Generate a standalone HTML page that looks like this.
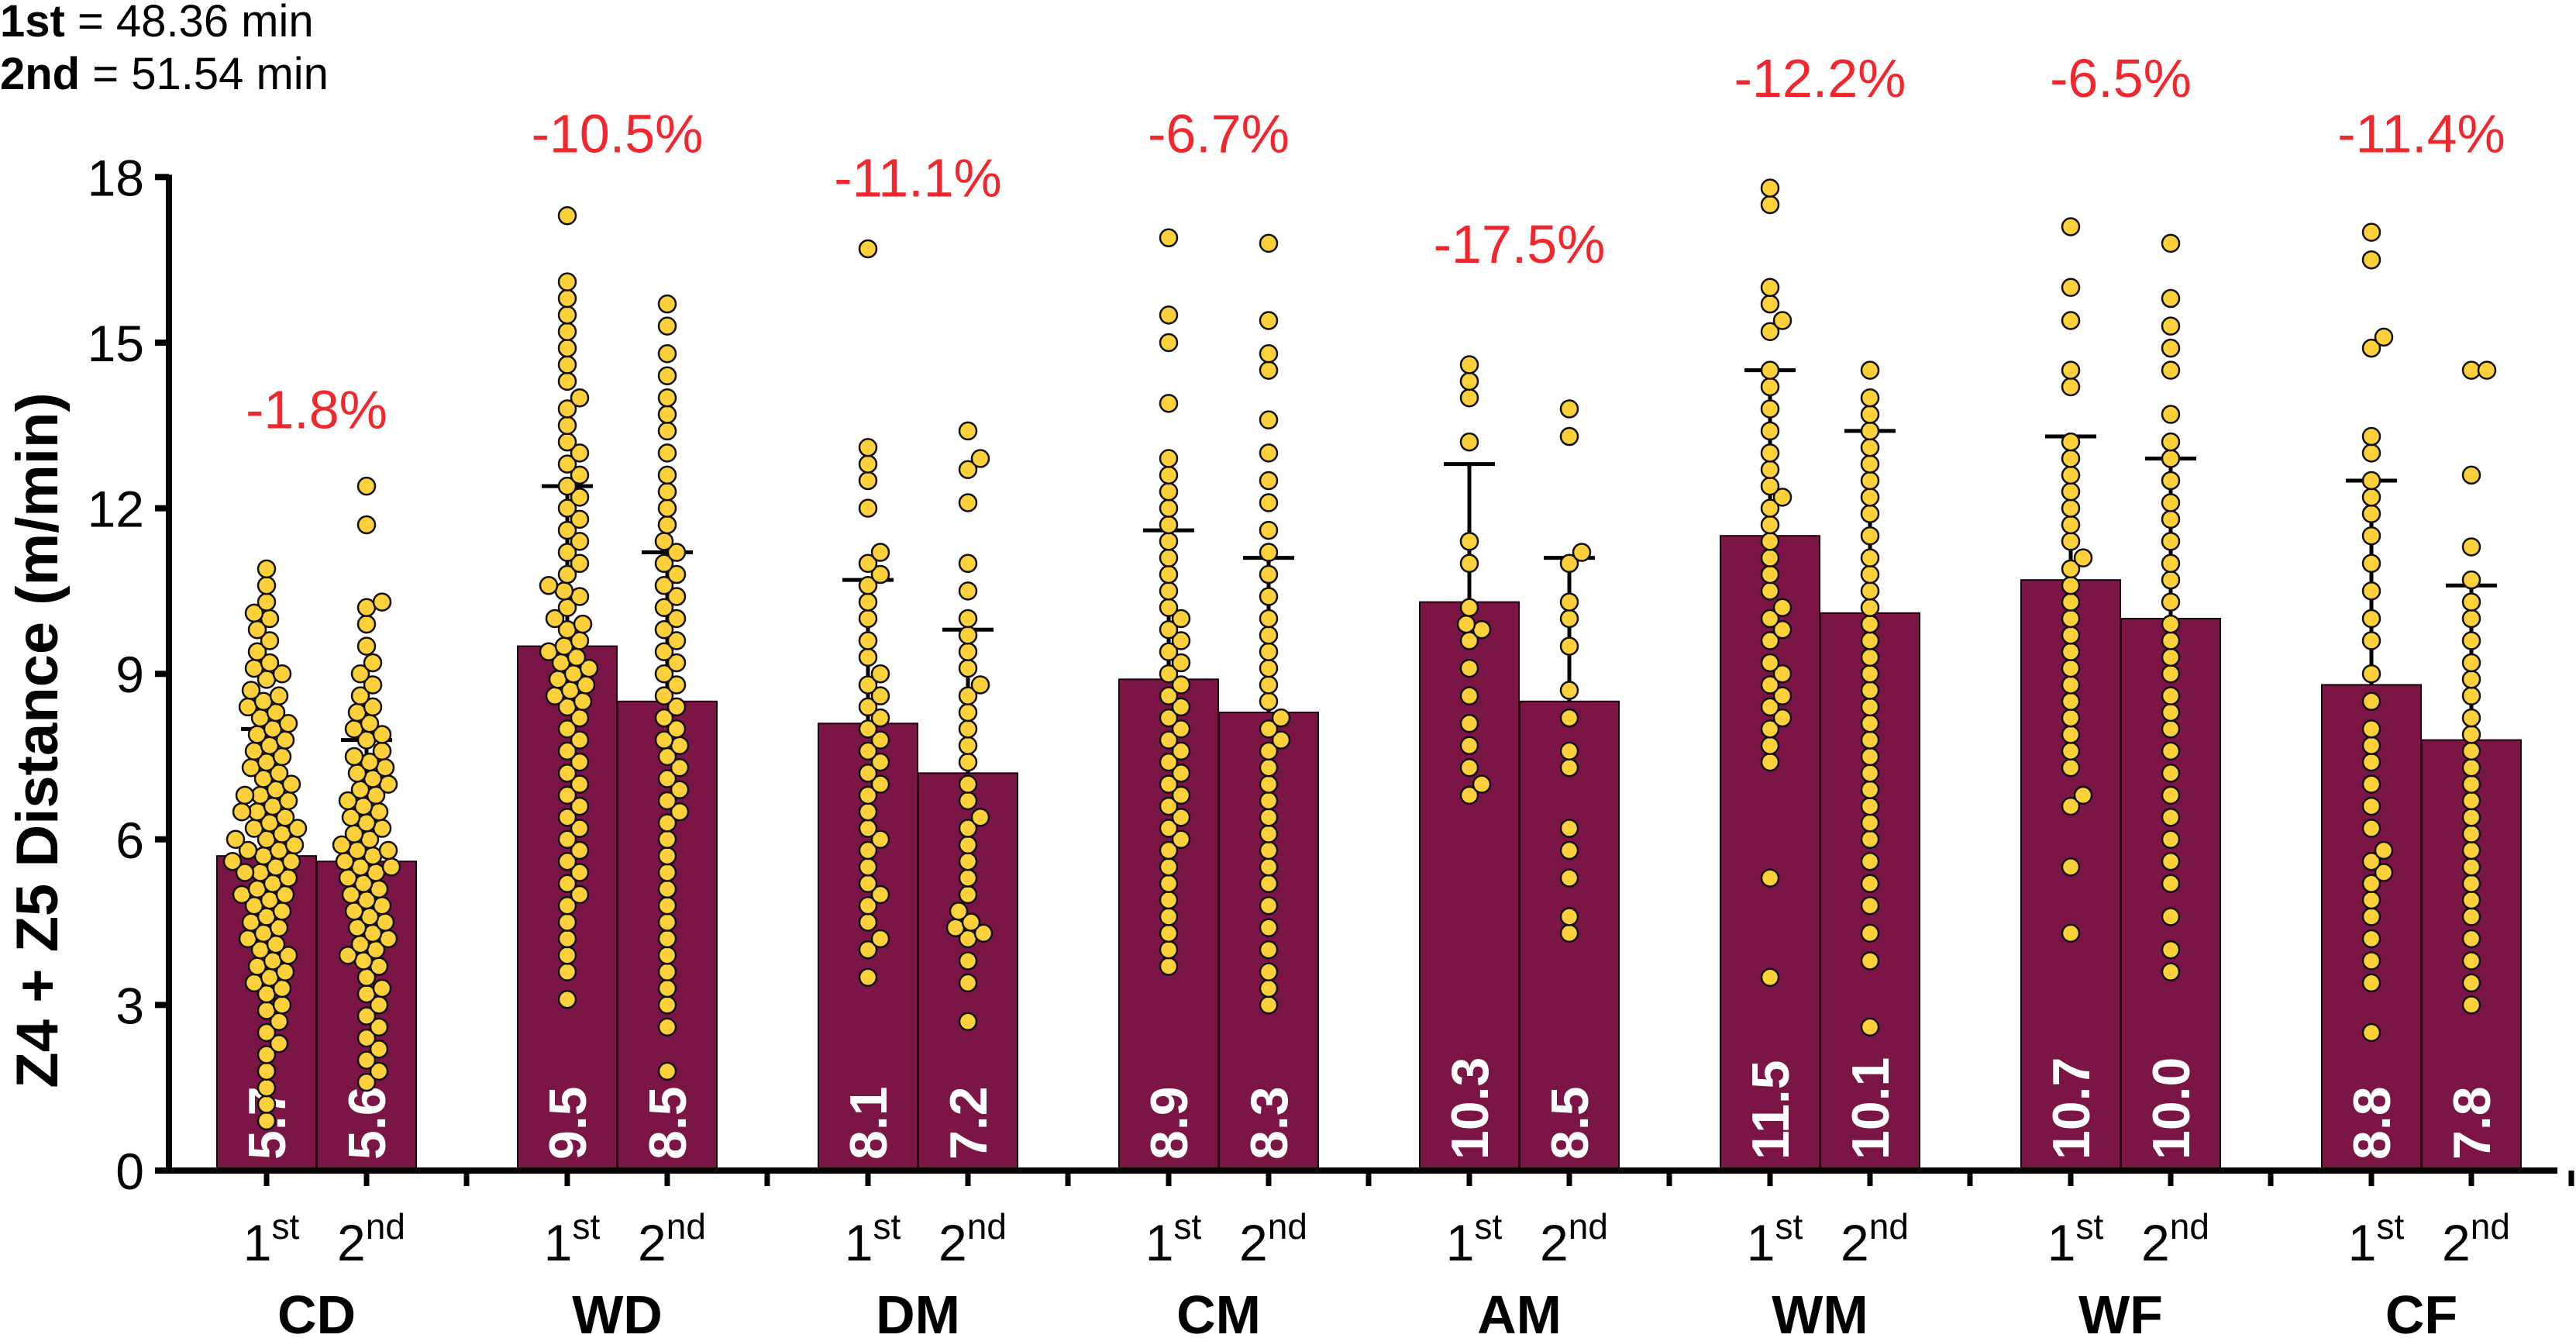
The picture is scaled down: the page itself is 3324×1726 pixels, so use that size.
<!DOCTYPE html>
<html><head><meta charset="utf-8">
<style>
html,body{margin:0;padding:0;background:#fff;}
svg{display:block;font-family:"Liberation Sans",Arial,sans-serif;}
</style></head>
<body>
<svg id="chart" width="3324" height="1726" viewBox="0 0 3324 1726" xmlns="http://www.w3.org/2000/svg">
<text x="0" y="47" font-size="58"><tspan font-weight="bold">1st</tspan> = 48.36 min</text>
<text x="0" y="115" font-size="58"><tspan font-weight="bold">2nd</tspan> = 51.54 min</text>
<text transform="translate(74,955) rotate(-90)" text-anchor="middle" font-size="76" font-weight="bold">Z4 + Z5 Distance (m/min)</text>
<g id="plot"></g>
</svg>
<script>
const categories = ["CD","WD","DM","CM","AM","WM","WF","CF"];
const pctLabels = ["-1.8%","-10.5%","-11.1%","-6.7%","-17.5%","-12.2%","-6.5%","-11.4%"];
const pctY = [13.8,18.8,18.0,18.8,16.8,19.8,19.8,18.8];
const means1 = [5.7,9.5,8.1,8.9,10.3,11.5,10.7,8.8];
const means2 = [5.6,8.5,7.2,8.3,8.5,10.1,10.0,7.8];
const sd1 = [2.3,2.9,2.6,2.7,2.5,3.0,2.6,3.7];
const sd2 = [2.2,2.7,2.6,2.8,2.6,3.3,2.9,2.8];
const yTicks = [0,3,6,9,12,15,18];
const CD1=[10.9,10.6,10.3,10.1,10.0,9.8,9.6,9.4,9.2,9.1,9.0,8.9,8.7,8.6,8.5,8.4,8.3,8.2,8.1,8.0,7.9,7.8,7.7,7.6,7.5,7.4,7.3,7.2,7.1,7.0,6.9,6.8,6.8,6.7,6.6,6.5,6.5,6.4,6.3,6.2,6.2,6.1,6.0,6.0,5.9,5.8,5.8,5.7,5.6,5.6,5.5,5.4,5.4,5.3,5.2,5.1,5.0,5.0,4.9,4.8,4.7,4.6,4.5,4.4,4.3,4.2,4.1,4.0,3.9,3.8,3.7,3.6,3.5,3.4,3.3,3.2,3.0,2.9,2.7,2.5,2.3,2.1,1.8,1.5,1.2,0.9];
const CD2=[12.4,11.7,10.3,10.2,9.9,9.5,9.2,9.0,8.8,8.6,8.4,8.3,8.1,8.0,7.9,7.8,7.6,7.5,7.4,7.3,7.2,7.1,7.0,6.9,6.8,6.7,6.6,6.5,6.4,6.3,6.2,6.1,6.0,5.9,5.8,5.8,5.7,5.6,5.5,5.5,5.4,5.3,5.2,5.1,5.0,4.9,4.8,4.7,4.6,4.5,4.4,4.3,4.2,4.1,4.0,3.9,3.8,3.7,3.5,3.3,3.2,3.0,2.8,2.6,2.4,2.2,2.0,1.8,1.6];
const WD1=[17.3,16.1,15.8,15.5,15.2,14.9,14.6,14.3,14.0,13.8,13.5,13.2,13.0,12.8,12.6,12.4,12.2,12.0,11.8,11.6,11.4,11.2,11.0,10.8,10.6,10.5,10.4,10.2,10.0,9.9,9.8,9.6,9.5,9.4,9.3,9.2,9.1,9.0,8.9,8.8,8.7,8.6,8.5,8.4,8.2,8.0,7.8,7.6,7.4,7.2,7.0,6.8,6.6,6.4,6.2,6.0,5.8,5.6,5.4,5.2,5.0,4.8,4.5,4.2,3.9,3.6,3.1];
const WD2=[15.7,15.3,14.8,14.4,14.0,13.7,13.4,13.0,12.6,12.3,12.0,11.7,11.4,11.2,11.0,10.8,10.6,10.4,10.2,10.0,9.8,9.6,9.4,9.2,9.0,8.8,8.6,8.4,8.2,8.0,7.8,7.7,7.5,7.3,7.1,6.9,6.7,6.5,6.3,6.0,5.7,5.4,5.1,4.8,4.5,4.2,3.9,3.6,3.3,3.0,2.6,1.8];
const DM1=[16.7,13.1,12.8,12.5,12.0,11.2,11.0,10.8,10.6,10.3,10.0,9.6,9.3,9.0,8.8,8.6,8.4,8.2,8.0,7.8,7.6,7.4,7.2,7.0,6.8,6.5,6.2,6.0,5.8,5.5,5.2,5.0,4.8,4.5,4.2,4.0,3.5];
const DM2=[13.4,12.9,12.7,12.1,11.0,10.5,10.0,9.7,9.4,9.1,8.8,8.6,8.3,8.0,7.7,7.4,7.0,6.7,6.4,6.2,5.9,5.6,5.3,5.0,4.7,4.5,4.4,4.3,4.2,3.8,3.4,2.7];
const CM1=[16.9,15.5,15.0,13.9,12.9,12.6,12.3,12.0,11.7,11.4,11.1,10.8,10.5,10.2,10.0,9.8,9.6,9.4,9.2,9.0,8.8,8.6,8.4,8.2,8.0,7.8,7.6,7.4,7.2,7.0,6.8,6.6,6.4,6.2,6.0,5.8,5.5,5.2,4.9,4.6,4.3,4.0,3.7];
const CM2=[16.8,15.4,14.8,14.5,13.6,13.0,12.5,12.1,11.6,11.2,10.8,10.4,10.0,9.7,9.4,9.1,8.8,8.5,8.2,8.0,7.8,7.6,7.3,7.0,6.7,6.4,6.1,5.8,5.5,5.2,4.8,4.4,4.0,3.6,3.3,3.0];
const AM1=[14.6,14.3,14.0,13.2,11.4,11.0,10.2,9.9,9.8,9.6,9.1,8.6,8.1,7.7,7.3,7.0,6.8];
const AM2=[13.8,13.3,11.2,11.0,10.3,10.0,9.5,8.7,8.2,7.6,7.3,6.2,5.8,5.3,4.6,4.3];
const WM1=[17.8,17.5,16.0,15.7,15.4,15.2,14.5,14.2,13.8,13.4,13.0,12.7,12.4,12.2,12.0,11.7,11.4,11.1,10.8,10.5,10.2,10.0,9.8,9.6,9.2,9.0,8.8,8.6,8.4,8.2,8.0,7.7,7.4,5.3,3.5];
const WM2=[14.5,14.0,13.7,13.4,13.1,12.8,12.5,12.2,11.9,11.5,11.1,10.8,10.5,10.2,9.9,9.6,9.3,9.0,8.7,8.4,8.1,7.8,7.5,7.2,6.9,6.6,6.3,6.0,5.6,5.2,4.8,4.3,3.8,2.6];
const WF1=[17.1,16.0,15.4,14.5,14.2,13.2,12.9,12.6,12.3,12.0,11.7,11.4,11.1,10.9,10.6,10.3,10.0,9.7,9.4,9.1,8.8,8.5,8.2,7.9,7.6,7.3,6.8,6.6,5.5,4.3];
const WF2=[16.8,15.8,15.3,14.9,14.5,13.7,13.2,12.9,12.5,12.1,11.8,11.4,11.0,10.7,10.3,9.9,9.6,9.3,9.0,8.6,8.3,8.0,7.6,7.2,6.8,6.4,6.0,5.6,5.2,4.6,4.0,3.6];
const CF1=[17.0,16.5,15.1,14.9,13.3,13.0,12.5,12.2,11.9,11.5,11.0,10.5,10.0,9.6,9.0,8.5,8.0,7.7,7.4,7.0,6.6,6.2,5.8,5.6,5.4,5.2,4.9,4.6,4.2,3.8,3.4,2.5];
const CF2=[14.5,14.5,12.6,11.3,10.7,10.3,10.0,9.6,9.2,8.9,8.6,8.2,7.9,7.6,7.3,7.0,6.7,6.4,6.1,5.8,5.5,5.2,4.9,4.6,4.2,3.8,3.4,3.0];
const pts1 = [CD1,WD1,DM1,CM1,AM1,WM1,WF1,CF1];
const pts2 = [CD2,WD2,DM2,CM2,AM2,WM2,WF2,CF2];

const NS="http://www.w3.org/2000/svg";
const plot=document.getElementById('plot');
const X0=344, GSTEP=388, SSTEP=129, BW=128, R=11;
const Y0=1510, PXU=71.2;
function y(v){return Y0 - v*PXU;}
function xc(g,s){return X0 + g*GSTEP + s*SSTEP;}
function mk(tag,attrs,parent){const e=document.createElementNS(NS,tag);for(const k in attrs)e.setAttribute(k,attrs[k]);(parent||plot).appendChild(e);return e;}

const yAxis=mk('line',{x1:218,y1:y(18)-3,x2:218,y2:Y0+4,stroke:'#000','stroke-width':8});


yTicks.forEach(t=>{
  const tk=mk('line',{x1:200,y1:y(t),x2:218,y2:y(t),stroke:'#000','stroke-width':8});
  
  
  const tl=mk('text',{x:186,y:y(t)+24,'text-anchor':'end','font-size':66});
  tl.textContent=t;
  
  
});

categories.forEach((c,g)=>{
  const means=[means1[g],means2[g]], sds=[sd1[g],sd2[g]], pts=[pts1[g],pts2[g]];
  [0,1].forEach(s=>{
    const cx=xc(g,s);
    const b=mk('rect',{x:cx-BW/2,y:y(means[s]),width:BW,height:Y0-y(means[s]),fill:'#7a1545',stroke:'#1a0010','stroke-width':2});
    
    
    const eb=mk('path',{d:`M${cx},${y(means[s])}V${y(means[s]+sds[s])}M${cx-33},${y(means[s]+sds[s])}H${cx+33}`,stroke:'#000','stroke-width':5,fill:'none'});
    
    
    const vl=mk('text',{transform:`translate(${cx+24},${Y0-14}) rotate(-90)`,'font-size':68,'font-weight':'bold',fill:'#fff'});
    vl.textContent=means[s].toFixed(1);
    
    
    const vals=pts[s].slice().sort((a,b)=>a-b);
    const placed=[];
    vals.forEach(v=>{
      const py=y(v);
      let best=0;
      for(let k=0;k<200;k++){
        const off=(k%2?1:-1)*Math.ceil(k/2)*2;
        const ok=placed.every(p=>Math.hypot(p[0]-off,p[1]-py)>=2*R-2);
        if(ok){best=off;break;}
      }
      placed.push([best,py]);
      const d=mk('circle',{cx:cx+best,cy:py,r:R,fill:'#fcd03a',stroke:'#111','stroke-width':2.5});
      
      
    });
    const xt=mk('line',{x1:cx,y1:Y0,x2:cx,y2:Y0+20,stroke:'#000','stroke-width':7});
    
    
    const sl=mk('text',{x:cx+6,y:1626,'text-anchor':'middle','font-size':66});
    sl.innerHTML=s?'2<tspan font-size="46" dy="-28">nd</tspan>':'1<tspan font-size="46" dy="-28">st</tspan>';
    
    
  });
  const gt=mk('line',{x1:xc(g,2),y1:Y0,x2:xc(g,2),y2:Y0+20,stroke:'#000','stroke-width':7});
  
  
  const cl=mk('text',{x:(xc(g,0)+xc(g,1))/2,y:1720,'text-anchor':'middle','font-size':70,'font-weight':'bold'});
  cl.textContent=c;
  
  
  const pl=mk('text',{x:(xc(g,0)+xc(g,1))/2,y:y(pctY[g])+25,'text-anchor':'middle','font-size':70,fill:'#f0282e'});
  pl.textContent=pctLabels[g];
  
  
});
const xAxis=mk('line',{x1:214,y1:Y0,x2:3300,y2:Y0,stroke:'#000','stroke-width':8});


</script>
</body></html>
